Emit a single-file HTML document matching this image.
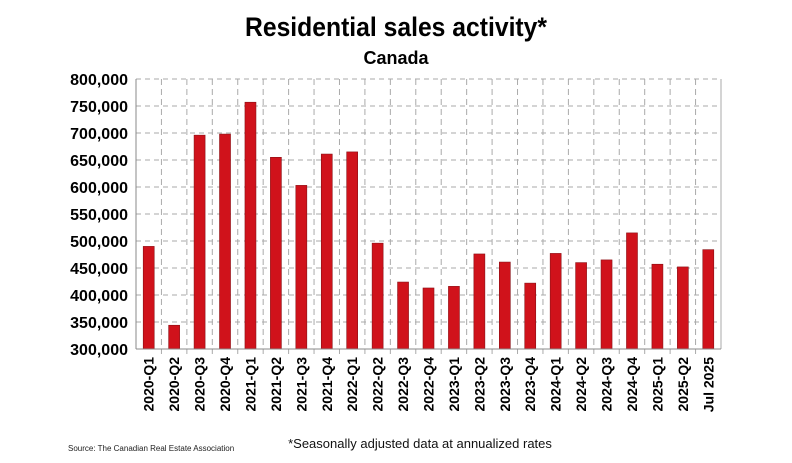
<!DOCTYPE html>
<html><head><style>
body{margin:0;background:#fff;}
svg text{font-family:"Liberation Sans",sans-serif;}
</style></head><body>
<svg width="792" height="458" viewBox="0 0 792 458" xmlns="http://www.w3.org/2000/svg">
<rect width="792" height="458" fill="#fff"/>
<text x="396" y="36" text-anchor="middle" font-size="27" font-weight="bold" fill="#000" textLength="302" lengthAdjust="spacingAndGlyphs">Residential sales activity*</text>
<text x="396" y="64" text-anchor="middle" font-size="18" font-weight="bold" fill="#000">Canada</text>
<g id="g"></g>
<text x="420" y="448" text-anchor="middle" font-size="13" fill="#111">*Seasonally adjusted data at annualized rates</text>
<text x="68" y="451" font-size="8" fill="#222">Source: The Canadian Real Estate Association</text>
</svg>
<script>
const vals=[490,344,696,698,757,655,603,661,665,496,424,413,416,476,461,422,477,460,465,515,457,452,484];
const labs=["2020-Q1","2020-Q2","2020-Q3","2020-Q4","2021-Q1","2021-Q2","2021-Q3","2021-Q4","2022-Q1","2022-Q2","2022-Q3","2022-Q4","2023-Q1","2023-Q2","2023-Q3","2023-Q4","2024-Q1","2024-Q2","2024-Q3","2024-Q4","2025-Q1","2025-Q2","Jul 2025"];
const L=136,R=721,T=79,B=349,w=(R-L)/23;
let s="";
for(let i=0;i<=10;i++){const y=B-(B-T)*i/10;
 s+=`<line x1="${L}" x2="${R}" y1="${y}" y2="${y}" stroke="#aaa" stroke-dasharray="5,4" stroke-width="1"/>`;
 s+=`<text x="${L-8}" y="${y+6}" text-anchor="end" font-size="16" font-weight="bold">${(300+50*i).toLocaleString('en-US')},000</text>`;}
for(let i=1;i<23;i++){const x=L+w*i;s+=`<line x1="${x}" x2="${x}" y1="${T}" y2="${B+5}" stroke="#aaa" stroke-dasharray="6,4" stroke-width="1"/>`;}
vals.forEach((v,i)=>{const cx=L+w*(i+0.5),y=B-(v-300)*0.54;
 s+=`<rect x="${cx-5.5}" y="${y}" width="11" height="${B-y}" fill="#d0121b" stroke="#8a1015" stroke-width="0.6"/>`;
 s+=`<text transform="translate(${cx+5},${357}) rotate(-90)" text-anchor="end" font-size="14" font-weight="bold">${labs[i]}</text>`;});
s+=`<line x1="${L}" x2="${L}" y1="${T}" y2="${B}" stroke="#888"/><line x1="${R}" x2="${R}" y1="${T}" y2="${B}" stroke="#aaa"/><line x1="${L}" x2="${R}" y1="${B}" y2="${B}" stroke="#888"/>`;
document.getElementById('g').innerHTML=s;
</script>
</body></html>
